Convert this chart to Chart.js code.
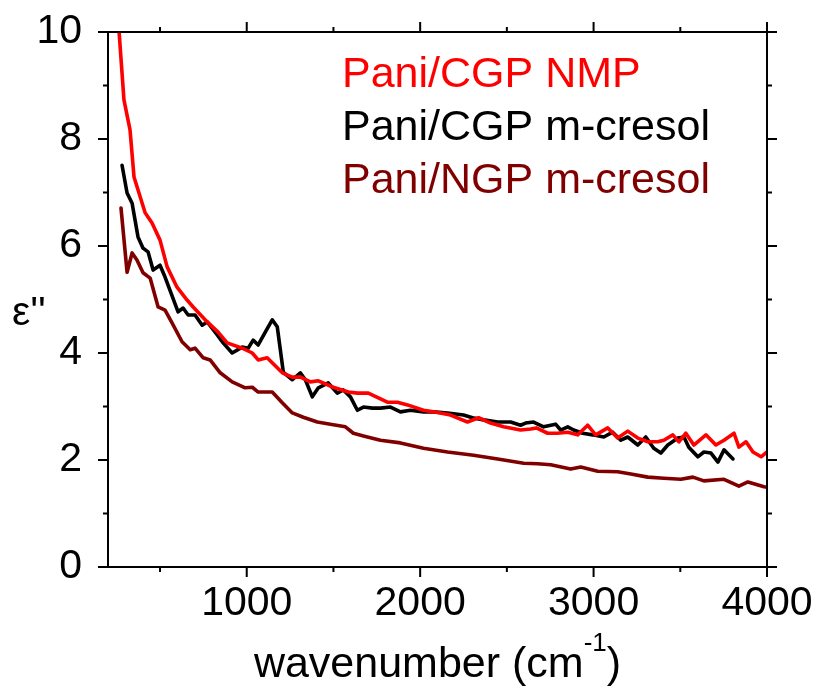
<!DOCTYPE html>
<html>
<head>
<meta charset="utf-8">
<title>Pani dielectric loss</title>
<script src="https://cdn.jsdelivr.net/npm/chart.js@4.4.1/dist/chart.umd.min.js"></script>
<style>
  body { margin: 0; background: #fff; }
  #chart { display: block; }
</style>
</head>
<body>
<canvas id="chart" width="817" height="688"></canvas>
<script>
// Series: wavenumber (cm-1) and eps'' values
const nmpX = [264, 292, 327, 350, 414, 454, 500, 541, 598, 656, 691, 760, 835, 887, 974, 1032, 1066, 1118, 1205, 1263,
  1310, 1367, 1413, 1499, 1586, 1638, 1701, 1811, 1869, 1927, 2019, 2077, 2175, 2273, 2337, 2406, 2481, 2579, 2637, 2670,
  2735, 2790, 2851, 2908, 2966, 3012, 3082, 3139, 3197, 3255, 3313, 3370, 3405, 3457, 3492, 3532, 3578, 3648, 3705, 3752,
  3810, 3838, 3879, 3919, 3966, 4000];
const nmpY = [10.0, 8.73, 8.17, 7.29, 6.62, 6.43, 6.11, 5.61, 5.23, 4.99, 4.86, 4.62, 4.39, 4.19, 4.09, 4.00, 3.87, 3.91, 3.63, 3.55,
  3.55, 3.46, 3.48, 3.36, 3.27, 3.25, 3.25, 3.08, 3.08, 3.03, 2.93, 2.90, 2.84, 2.71, 2.79, 2.69, 2.62, 2.56, 2.58, 2.60,
  2.50, 2.50, 2.52, 2.47, 2.65, 2.47, 2.60, 2.41, 2.54, 2.41, 2.34, 2.34, 2.37, 2.47, 2.34, 2.50, 2.28, 2.47, 2.28, 2.37,
  2.50, 2.24, 2.34, 2.15, 2.06, 2.15];

const cgpX = [281, 310, 339, 373, 402, 431, 460, 500, 529, 604, 633, 662, 702, 743, 772, 830, 864, 916, 974, 1008,
  1037, 1066, 1107, 1147, 1176, 1211, 1263, 1309, 1338, 1378, 1413, 1470, 1522, 1557, 1598, 1638, 1673, 1725, 1771, 1829,
  1886, 1944, 2019, 2077, 2158, 2250, 2302, 2366, 2447, 2522, 2579, 2608, 2654, 2712, 2781, 2810, 2851, 2885, 2937, 2995,
  3059, 3110, 3157, 3197, 3255, 3301, 3347, 3388, 3428, 3486, 3521, 3549, 3601, 3636, 3677, 3717, 3752, 3804];
const cgpY = [7.51, 6.99, 6.80, 6.17, 5.96, 5.89, 5.55, 5.64, 5.42, 4.77, 4.84, 4.71, 4.71, 4.52, 4.58, 4.34, 4.19, 4.00, 4.11, 4.09,
  4.24, 4.15, 4.39, 4.62, 4.49, 3.64, 3.50, 3.63, 3.50, 3.18, 3.35, 3.44, 3.25, 3.31, 3.18, 2.93, 2.99, 2.97, 2.97, 2.99,
  2.90, 2.93, 2.90, 2.90, 2.88, 2.84, 2.79, 2.75, 2.71, 2.71, 2.65, 2.69, 2.71, 2.62, 2.67, 2.56, 2.62, 2.56, 2.50, 2.47,
  2.43, 2.52, 2.37, 2.43, 2.28, 2.43, 2.22, 2.13, 2.28, 2.41, 2.43, 2.24, 2.06, 2.15, 2.13, 1.96, 2.19, 2.02];

const ngpX = [275, 310, 339, 367, 402, 443, 489, 529, 570, 627, 674, 702, 749, 789, 847, 916, 991, 1032, 1066, 1147,
  1205, 1263, 1326, 1407, 1482, 1569, 1615, 1673, 1771, 1886, 2019, 2158, 2308, 2447, 2597, 2677, 2753, 2868, 2926, 3024,
  3139, 3215, 3313, 3405, 3503, 3573, 3636, 3752, 3838, 3890, 3983, 4000];
const ngpY = [6.71, 5.51, 5.87, 5.74, 5.50, 5.40, 4.86, 4.80, 4.56, 4.21, 4.06, 4.09, 3.91, 3.87, 3.63, 3.46, 3.35, 3.36, 3.27, 3.27,
  3.07, 2.88, 2.80, 2.71, 2.67, 2.62, 2.50, 2.45, 2.37, 2.32, 2.22, 2.15, 2.09, 2.02, 1.94, 1.93, 1.91, 1.83, 1.87, 1.79,
  1.78, 1.74, 1.68, 1.66, 1.64, 1.68, 1.61, 1.64, 1.51, 1.59, 1.50, 1.49];

const seriesLabels = ['Pani/CGP NMP', 'Pani/CGP m-cresol', 'Pani/NGP m-cresol'];
const seriesColors = ['#ff0000', '#000000', '#800000'];

const xTicks = [1000, 2000, 3000, 4000];
const xMinorTicks = [500, 1500, 2500, 3500];
const yTicks = [0, 2, 4, 6, 8, 10];
const yMinorTicks = [1, 3, 5, 7, 9];

const FONT = "'Liberation Sans', Arial, sans-serif";

function toPoints(xs, ys) {
  return xs.map((x, i) => ({ x: x, y: ys[i] }));
}

// drop the label overhang so the plot box sits where the layout padding says
function noOverhang(scale) {
  scale.paddingLeft = 0;
  scale.paddingRight = 0;
  scale.paddingTop = 0;
  scale.paddingBottom = 0;
}

// frame, ticks on all four sides, legend text and axis titles
const decorations = {
  id: 'decorations',
  afterDraw(chart) {
    const ctx = chart.ctx;
    const area = chart.chartArea;
    const xs = chart.scales.x;
    const ys = chart.scales.y;
    ctx.save();
    ctx.strokeStyle = '#000';
    ctx.lineWidth = 2;
    ctx.strokeRect(area.left, area.top, area.right - area.left, area.bottom - area.top);

    ctx.beginPath();
    const tick = (vals, len) => {
      vals.forEach(v => {
        const px = xs.getPixelForValue(v);
        ctx.moveTo(px, area.bottom); ctx.lineTo(px, area.bottom + len);
        ctx.moveTo(px, area.top); ctx.lineTo(px, area.top - len);
      });
    };
    const ytick = (vals, len) => {
      vals.forEach(v => {
        const py = ys.getPixelForValue(v);
        ctx.moveTo(area.left, py); ctx.lineTo(area.left - len, py);
        ctx.moveTo(area.right, py); ctx.lineTo(area.right + len, py);
      });
    };
    tick(xTicks, 10);
    tick(xMinorTicks, 5);
    ytick(yTicks, 10);
    ytick(yMinorTicks, 5);
    ctx.stroke();

    // legend as coloured text
    ctx.font = '43px ' + FONT;
    ctx.textAlign = 'left';
    ctx.textBaseline = 'alphabetic';
    chart.data.datasets.forEach((ds, i) => {
      ctx.fillStyle = ds.borderColor;
      ctx.fillText(ds.label, area.left + 234, area.top + 55 + i * 53);
    });

    // y title
    ctx.fillStyle = '#000';
    ctx.font = '41px ' + FONT;
    ctx.fillText("\u03B5''", 12, 325);

    // x title with superscript
    const main = 'wavenumber (cm';
    const sup = '-1';
    const close = ')';
    ctx.font = '43px ' + FONT;
    const w1 = ctx.measureText(main).width;
    const w3 = ctx.measureText(close).width;
    ctx.font = '26px ' + FONT;
    const w2 = ctx.measureText(sup).width;
    const total = w1 + w2 + w3;
    let x0 = (area.left + area.right) / 2 - total / 2;
    ctx.font = '43px ' + FONT;
    ctx.fillText(main, x0, 677);
    ctx.font = '26px ' + FONT;
    ctx.fillText(sup, x0 + w1, 651);
    ctx.font = '43px ' + FONT;
    ctx.fillText(close, x0 + w1 + w2, 677);
    ctx.restore();
  }
};

const ctx = document.getElementById('chart').getContext('2d');
const chart = new Chart(ctx, {
  type: 'line',
  data: {
    datasets: [
      { label: seriesLabels[0], data: toPoints(nmpX, nmpY), borderColor: seriesColors[0], borderWidth: 3.6 },
      { label: seriesLabels[1], data: toPoints(cgpX, cgpY), borderColor: seriesColors[1], borderWidth: 3.6 },
      { label: seriesLabels[2], data: toPoints(ngpX, ngpY), borderColor: seriesColors[2], borderWidth: 3.6 }
    ]
  },
  options: {
    responsive: false,
    animation: false,
    devicePixelRatio: 1,
    layout: { padding: { top: 32, right: 50, left: 0, bottom: 0 } },
    elements: {
      line: { tension: 0, fill: false, borderJoinStyle: 'round', borderCapStyle: 'round' },
      point: { radius: 0 }
    },
    plugins: {
      legend: { display: false },
      tooltip: { enabled: false }
    },
    scales: {
      x: {
        type: 'linear',
        min: 200,
        max: 4000,
        grid: { display: false },
        border: { display: false },
        afterBuildTicks: scale => { scale.ticks = xTicks.map(v => ({ value: v })); },
        afterFit: scale => { scale.height = 121; noOverhang(scale); },
        ticks: {
          color: '#000',
          padding: 4,
          maxRotation: 0,
          autoSkip: false,
          callback: v => String(v),
          font: { family: FONT, size: 41 }
        }
      },
      y: {
        type: 'linear',
        min: 0,
        max: 10,
        grid: { display: false },
        border: { display: false },
        afterBuildTicks: scale => { scale.ticks = yTicks.map(v => ({ value: v })); },
        afterFit: scale => { scale.width = 108; noOverhang(scale); },
        ticks: {
          color: '#000',
          padding: 18,
          callback: v => String(v),
          font: { family: FONT, size: 41 }
        }
      }
    }
  },
  plugins: [decorations]
});
</script>
</body>
</html>
